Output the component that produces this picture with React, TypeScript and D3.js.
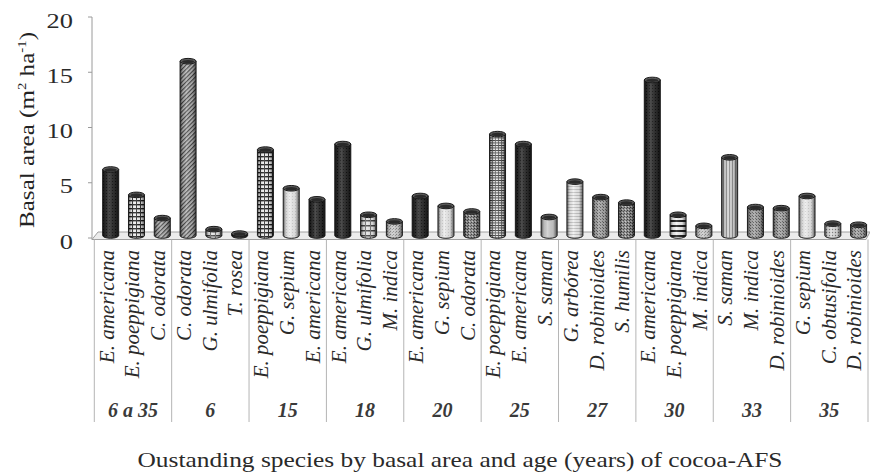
import React from "react";
import * as d3 from "d3";

// Basal area (m2/ha) of outstanding species per cocoa-AFS age group
const ageGroups = ["6 a 35", "6", "15", "18", "20", "25", "27", "30", "33", "35"];

const species = [
  "E. americana", "E. poeppigiana", "C. odorata",
  "C. odorata", "G. ulmifolia", "T. rosea",
  "E. poeppigiana", "G. sepium", "E. americana",
  "E. americana", "G. ulmifolia", "M. indica",
  "E. americana", "G. sepium", "C. odorata",
  "E. poeppigiana", "E. americana", "S. saman",
  "G. arbórea", "D. robinioides", "S. humilis",
  "E. americana", "E. poeppigiana", "M. indica",
  "S. saman", "M. indica", "D. robinioides",
  "G. sepium", "C. obtusifolia", "D. robinioides",
];

const basalArea = [
  6.2, 3.9, 1.8,
  16.0, 0.8, 0.4,
  8.0, 4.5, 3.5,
  8.5, 2.1, 1.5,
  3.8, 2.9, 2.4,
  9.4, 8.5, 1.9,
  5.1, 3.7, 3.2,
  14.3, 2.1, 1.1,
  7.3, 2.8, 2.7,
  3.8, 1.3, 1.2,
];

const yTicks = [0, 5, 10, 15, 20];

// fill pattern used for each bar (styling only)
const barPattern = [
  "dark", "grid", "hatch",
  "hatch", "lightgrid", "dark",
  "grid", "light", "dark",
  "dark", "lightgrid", "speckleLight",
  "dark", "light", "speckleDark",
  "finegrid", "dark", "plainGrey",
  "hlines", "speckle", "speckleDark",
  "dark", "bands", "speckleLight",
  "vlines", "speckle", "speckle",
  "light", "dots", "speckle",
];

const W = 870;
const H = 474;
const serif = "Liberation Serif";

function Patterns() {
  return (
    <defs>
      <pattern id="p-dark" width="3" height="3" patternUnits="userSpaceOnUse">
        <rect width="3" height="3" fill="#2e2e2e" />
        <rect x="1" y="1" width="1" height="1" fill="#111" />
      </pattern>
      <pattern id="p-grid" width="4" height="4" patternUnits="userSpaceOnUse">
        <rect width="4" height="4" fill="#f2f2f2" />
        <rect width="4" height="1.4" fill="#222" />
        <rect width="1" height="4" fill="#333" />
      </pattern>
      <pattern id="p-finegrid" width="3" height="2.5" patternUnits="userSpaceOnUse">
        <rect width="3" height="2.5" fill="#eee" />
        <rect width="3" height="0.9" fill="#333" />
        <rect width="0.8" height="2.5" fill="#555" />
      </pattern>
      <pattern id="p-lightgrid" width="5" height="5" patternUnits="userSpaceOnUse">
        <rect width="5" height="5" fill="#e6e6e6" />
        <rect width="5" height="1.5" fill="#444" />
        <rect width="1" height="5" fill="#777" />
      </pattern>
      <pattern id="p-hatch" width="3" height="3" patternUnits="userSpaceOnUse" patternTransform="rotate(45)">
        <rect width="3" height="3" fill="#bdbdbd" />
        <rect width="1.2" height="3" fill="#444" />
      </pattern>
      <pattern id="p-light" width="3" height="3" patternUnits="userSpaceOnUse">
        <rect width="3" height="3" fill="#ececec" />
        <rect x="1" y="1" width="1" height="1" fill="#cfcfcf" />
      </pattern>
      <pattern id="p-speckleLight" width="3" height="3" patternUnits="userSpaceOnUse">
        <rect width="3" height="3" fill="#cfcfcf" />
        <rect x="0" y="0" width="1" height="1" fill="#888" />
        <rect x="2" y="1" width="1" height="1" fill="#999" />
      </pattern>
      <pattern id="p-speckle" width="3" height="3" patternUnits="userSpaceOnUse">
        <rect width="3" height="3" fill="#a8a8a8" />
        <rect x="0" y="0" width="1" height="1" fill="#555" />
        <rect x="2" y="2" width="1" height="1" fill="#666" />
      </pattern>
      <pattern id="p-speckleDark" width="3" height="3" patternUnits="userSpaceOnUse">
        <rect width="3" height="3" fill="#8a8a8a" />
        <rect x="0" y="0" width="1" height="1" fill="#333" />
        <rect x="2" y="1" width="1" height="1" fill="#444" />
        <rect x="1" y="2" width="1" height="1" fill="#ccc" />
      </pattern>
      <pattern id="p-plainGrey" width="3" height="3" patternUnits="userSpaceOnUse">
        <rect width="3" height="3" fill="#cdcdcd" />
      </pattern>
      <pattern id="p-hlines" width="3" height="3" patternUnits="userSpaceOnUse">
        <rect width="3" height="3" fill="#f0f0f0" />
        <rect width="3" height="0.8" fill="#bbb" />
      </pattern>
      <pattern id="p-vlines" width="3" height="3" patternUnits="userSpaceOnUse">
        <rect width="3" height="3" fill="#d4d4d4" />
        <rect width="0.9" height="3" fill="#8a8a8a" />
      </pattern>
      <pattern id="p-bands" width="5" height="5" patternUnits="userSpaceOnUse">
        <rect width="5" height="5" fill="#f2f2f2" />
        <rect width="5" height="2" fill="#222" />
      </pattern>
      <pattern id="p-dots" width="3" height="3" patternUnits="userSpaceOnUse">
        <rect width="3" height="3" fill="#dedede" />
        <circle cx="1.5" cy="1.5" r="0.7" fill="#777" />
      </pattern>
      <linearGradient id="cyl-shade" x1="0" x2="1" y1="0" y2="0">
        <stop offset="0%" stopColor="#000" stopOpacity="0.6" />
        <stop offset="18%" stopColor="#000" stopOpacity="0.1" />
        <stop offset="40%" stopColor="#fff" stopOpacity="0.15" />
        <stop offset="75%" stopColor="#000" stopOpacity="0.08" />
        <stop offset="100%" stopColor="#000" stopOpacity="0.6" />
      </linearGradient>
    </defs>
  );
}

export default function App() {
  const idx = d3.range(species.length);

  const x = d3.scaleBand<number>().domain(idx).range([94.3, 868]).padding(0);
  const xGroup = d3.scaleBand<string>().domain(ageGroups).range([94.3, 868]).padding(0);
  const y = d3.scaleLinear().domain([0, 20]).range([238, 17]);

  const barW = 16;
  const shift = 3.5; // 3d depth offset of the cylinders
  const rx = barW / 2;
  const ry = 2.8;
  const baseY = 235.5;

  const floorTop = 232;
  const floorBottom = 239.5;

  return (
    <div style={{ position: "absolute", left: 0, top: 0, background: "#fff" }}>
      <svg width={W} height={H} style={{ display: "block" }} fontFamily={serif}>
        <Patterns />
        <rect width={W} height={H} fill="#fff" />

        {/* y axis */}
        <line x1={92} x2={92} y1={y(20)} y2={floorBottom} stroke="#9a9a9a" strokeWidth={1} />
        {yTicks.map(t => (
          <g key={t}>
            <line x1={88} x2={92} y1={y(t)} y2={y(t)} stroke="#9a9a9a" />
            <text
              transform={`translate(73,${y(t) + 3}) scale(1.2,1)`}
              textAnchor="end"
              dominantBaseline="central"
              fontSize={22}
              fill="#2a2a2a"
            >
              {t}
            </text>
          </g>
        ))}

        {/* floor of the 3d chart */}
        <path
          d={`M92,${floorBottom} L98,${floorTop} L870,${floorTop} L866,${floorBottom} Z`}
          fill="#ececec"
          stroke="#a0a0a0"
          strokeWidth={1}
        />

        {/* group separators */}
        {ageGroups.map(g => (
          <line key={"s" + g} x1={xGroup(g)!} x2={xGroup(g)!} y1={floorBottom} y2={422} stroke="#b5b5b5" />
        ))}
        <line x1={868} x2={868} y1={floorBottom} y2={422} stroke="#b5b5b5" />

        {/* bars as cylinders */}
        {idx.map(i => {
          const cx = x(i)! + x.bandwidth() / 2 + shift;
          const x0 = cx - rx;
          const x1 = cx + rx;
          const top = y(basalArea[i]);
          const body = `M${x0},${top} L${x0},${baseY} A${rx},${ry} 0 0 0 ${x1},${baseY} L${x1},${top} Z`;
          return (
            <g key={i}>
              <path d={body} fill={`url(#p-${barPattern[i]})`} />
              <path d={body} fill="url(#cyl-shade)" stroke="#1e1e1e" strokeWidth={1} />
              <ellipse cx={cx} cy={top} rx={rx} ry={ry} fill="#5a5a5a" stroke="#1a1a1a" strokeWidth={1} />
              <ellipse cx={cx} cy={top + 0.4} rx={rx - 2} ry={ry - 1.1} fill="#2a2a2a" />
            </g>
          );
        })}

        {/* species labels */}
        {idx.map(i => {
          const cx = x(i)! + x.bandwidth() / 2;
          return (
            <text
              key={"l" + i}
              transform={`translate(${cx},250) rotate(-90)`}
              textAnchor="end"
              dy="0.3em"
              fontSize={21}
              fontStyle="italic"
              fill="#2a2a2a"
            >
              {species[i]}
            </text>
          );
        })}

        {/* age group labels */}
        {ageGroups.map(g => (
          <text
            key={"g" + g}
            x={xGroup(g)! + xGroup.bandwidth() / 2}
            y={416.5}
            textAnchor="middle"
            fontSize={20}
            fontStyle="italic"
            fontWeight="bold"
            fill="#3a3a3a"
          >
            {g}
          </text>
        ))}

        {/* axis titles */}
        <text
          transform="translate(33.5,130) rotate(-90)"
          textAnchor="middle"
          fontSize={22}
          fill="#222"
          textLength={196}
          lengthAdjust="spacingAndGlyphs"
        >
          Basal area (m
          <tspan fontSize={13} dy={-8}>2</tspan>
          <tspan dy={8}> ha</tspan>
          <tspan fontSize={13} dy={-8}>-1</tspan>
          <tspan dy={8}>)</tspan>
        </text>

        <text
          x={460}
          y={467}
          textAnchor="middle"
          fontSize={22}
          fill="#2a2a2a"
          textLength={645}
          lengthAdjust="spacingAndGlyphs"
        >
          Oustanding species by basal area and age (years) of cocoa-AFS
        </text>
      </svg>
    </div>
  );
}
